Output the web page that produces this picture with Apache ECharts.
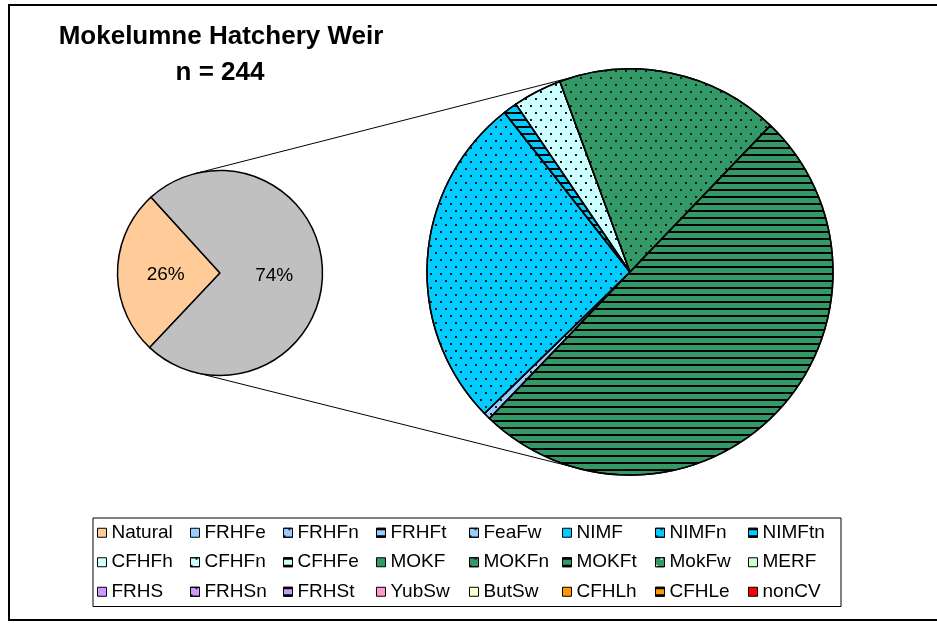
<!DOCTYPE html>
<html>
<head>
<meta charset="utf-8">
<script src="https://cdn.jsdelivr.net/npm/echarts@6/dist/echarts.min.js"></script>
<style>
  html, body { margin: 0; padding: 0; background: #fff; }
  #chart { width: 937px; height: 623px; }
</style>
</head>
<body>
<div id="chart"></div>
<script>
// ---- data ----
const titleLines = ['Mokelumne Hatchery Weir', 'n = 244'];

// first pie: natural vs. hatchery origin
const originNames = ['Natural', 'Hatchery'];
const originCounts = [64, 180];

// second pie: breakdown of the hatchery fish by stock
const stockNames = ['FRHFe', 'FRHFn', 'FRHFt', 'FeaFw', 'NIMF', 'NIMFn', 'NIMFtn',
  'CFHFh', 'CFHFn', 'CFHFe', 'MOKF', 'MOKFn', 'MOKFt', 'MokFw', 'MERF',
  'FRHS', 'FRHSn', 'FRHSt', 'YubSw', 'ButSw', 'CFHLh', 'CFHLe', 'nonCV'];
const stockCounts = [0, 0, 0, 1, 0, 48, 2,
  0, 7, 0, 0, 32, 90, 0, 0,
  0, 0, 0, 0, 0, 0, 0, 0];

const legendNames = ['Natural'].concat(stockNames);

// ---- styles ----
const FONT = '"Liberation Sans", Arial, sans-serif';

const fills = {
  Natural: '#FFCC99', Hatchery: '#C0C0C0',
  FRHFe: '#99CCFF', FRHFn: '#99CCFF', FRHFt: '#99CCFF', FeaFw: '#99CCFF',
  NIMF: '#00CCFF', NIMFn: '#00CCFF', NIMFtn: '#00CCFF',
  CFHFh: '#CCFFFF', CFHFn: '#CCFFFF', CFHFe: '#CCFFFF',
  MOKF: '#339966', MOKFn: '#339966', MOKFt: '#339966', MokFw: '#339966',
  MERF: '#CCFFCC',
  FRHS: '#CC99FF', FRHSn: '#CC99FF', FRHSt: '#CC99FF',
  YubSw: '#FF99CC', ButSw: '#FFFFCC',
  CFHLh: '#FF9900', CFHLe: '#FF9900', nonCV: '#FF0000'
};

// sparse staggered dots and narrow horizontal bands
const patterns = {
  dots: {
    symbol: 'rect', symbolSize: 1, color: '#1a1a1a',
    dashArrayX: [[2, 8], [0, 5, 2, 3]], dashArrayY: [2, 5]
  },
  lightDots: {
    symbol: 'rect', symbolSize: 1, color: '#ffffff',
    dashArrayX: [[2, 8], [0, 5, 2, 3]], dashArrayY: [2, 5]
  },
  stripes: {
    symbol: 'rect', symbolSize: 1, color: '#000000',
    dashArrayX: [1, 0], dashArrayY: [2, 5]
  }
};

const patternOf = {
  FRHFn: 'dots', FeaFw: 'dots', NIMFn: 'dots', CFHFn: 'dots', MOKFn: 'dots', FRHSn: 'dots',
  MokFw: 'lightDots',
  FRHFt: 'stripes', NIMFtn: 'stripes', CFHFe: 'stripes', MOKFt: 'stripes',
  FRHSt: 'stripes', CFHLe: 'stripes'
};

function itemStyleFor(name, value) {
  const s = {
    color: fills[name],
    borderColor: '#000',
    borderWidth: value > 0 ? 1.5 : 0
  };
  if (patternOf[name]) s.decal = patterns[patternOf[name]];
  return s;
}

// ---- geometry of the two pies ----
const small = { cx: 220, cy: 273, r: 102.5 };
const big = { cx: 630, cy: 272, r: 203 };

// outer common tangents joining the two pies
function tangentLines(a, b) {
  const dx = b.cx - a.cx, dy = b.cy - a.cy;
  const D = Math.hypot(dx, dy);
  const ux = dx / D, uy = dy / D;
  const c = (a.r - b.r) / D;
  const s = Math.sqrt(1 - c * c);
  return [1, -1].map(function (k) {
    const nx = c * ux - k * s * uy;
    const ny = c * uy + k * s * ux;
    return {
      x1: a.cx + a.r * nx, y1: a.cy + a.r * ny,
      x2: b.cx + b.r * nx, y2: b.cy + b.r * ny
    };
  });
}

const connectors = tangentLines(small, big).map(function (shape) {
  return {
    type: 'line', z: 0, silent: true, shape: shape,
    style: { stroke: '#000', lineWidth: 1 }
  };
});

const originData = originNames.map(function (n, i) {
  return { name: n, value: originCounts[i], itemStyle: itemStyleFor(n, originCounts[i]) };
});
const stockData = stockNames.map(function (n, i) {
  return { name: n, value: stockCounts[i], itemStyle: itemStyleFor(n, stockCounts[i]) };
});

const chart = echarts.init(document.getElementById('chart'), null, { renderer: 'canvas' });

chart.setOption({
  backgroundColor: '#ffffff',
  animation: false,
  legend: {
    data: legendNames,
    left: 93,
    top: 518,
    width: 745,
    orient: 'horizontal',
    padding: [0, 0, 0, 4],
    itemGap: 0,
    itemWidth: 9,
    itemHeight: 9,
    icon: 'rect',
    borderColor: '#000',
    borderWidth: 1,
    selectedMode: false,
    itemStyle: { borderColor: '#000', borderWidth: 1 },
    textStyle: {
      fontFamily: FONT, fontSize: 19, color: '#000',
      width: 78.5, lineHeight: 29.5, overflow: 'truncate'
    }
  },
  graphic: [
    {
      type: 'rect', silent: true, z: -1,
      shape: { x: 9, y: 5, width: 960, height: 615 },
      style: { fill: null, stroke: '#000', lineWidth: 2 }
    },
    {
      type: 'text', x: 221, y: 37, silent: true,
      style: {
        text: titleLines[0], fill: '#000', align: 'center', verticalAlign: 'middle',
        font: 'bold 26px ' + FONT
      }
    },
    {
      type: 'text', x: 220, y: 73, silent: true,
      style: {
        text: titleLines[1], fill: '#000', align: 'center', verticalAlign: 'middle',
        font: 'bold 26px ' + FONT
      }
    }
  ].concat(connectors),
  series: [
    {
      name: 'Origin',
      type: 'pie',
      center: [small.cx, small.cy],
      radius: [0, small.r],
      startAngle: -133.3,
      clockwise: true,
      silent: true,
      label: {
        show: true,
        position: 'inside',
        formatter: function (p) { return Math.round(p.percent) + '%'; },
        fontFamily: FONT,
        fontSize: 19,
        color: '#000',
        textBorderWidth: 0,
        offset: [0, 2]
      },
      labelLine: { show: false },
      emphasis: { disabled: true },
      data: originData
    },
    {
      name: 'Hatchery stock',
      type: 'pie',
      center: [big.cx, big.cy],
      radius: [0, big.r],
      startAngle: -133.8,
      clockwise: true,
      silent: true,
      minAngle: 0,
      label: { show: false },
      labelLine: { show: false },
      emphasis: { disabled: true },
      data: stockData
    }
  ]
});
</script>
</body>
</html>
